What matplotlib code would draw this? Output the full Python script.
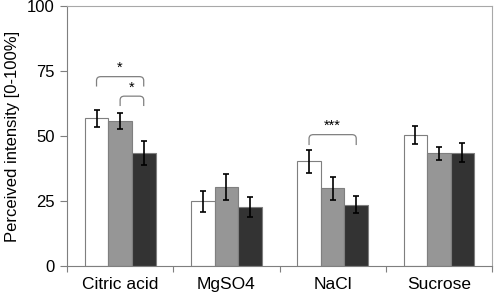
import matplotlib
matplotlib.use("Agg")
import matplotlib.pyplot as plt
import numpy as np
from matplotlib.path import Path
from matplotlib.patches import PathPatch

plt.rcParams['font.family'] = ['Liberation Sans', 'DejaVu Sans']

categories = ["Citric acid", "MgSO4", "NaCl", "Sucrose"]
series1 = [56.8, 24.8, 40.2, 50.4]
series2 = [55.8, 30.3, 29.9, 43.3]
series3 = [43.5, 22.8, 23.5, 43.6]
err1 = [3.2, 4.1, 4.4, 3.6]
err2 = [3.0, 5.1, 4.4, 2.6]
err3 = [4.6, 3.9, 3.3, 3.8]
colors = ["#ffffff", "#969696", "#333333"]
yticks = [0, 25, 50, 75, 100]

fig = plt.figure(figsize=(4.94, 2.95), dpi=100)
ax = fig.add_axes([0.1356, 0.0983, 0.8604, 0.8817])

x = np.arange(len(categories))
w = 0.222
offs = [-w, 0, w]
for s, e, c, o in zip([series1, series2, series3], [err1, err2, err3], colors, offs):
    ax.bar(x + o, s, width=w, color=c, edgecolor="#7f7f7f", linewidth=0.8,
           yerr=e, error_kw=dict(ecolor="black", elinewidth=1.2, capsize=2.2, capthick=1.2),
           zorder=2)

ax.set_xlim(-0.5, len(categories) - 0.5)
ax.set_ylim(0, 100)
ax.set_yticks(yticks)
ax.set_yticklabels([str(t) for t in yticks], fontsize=12)
ax.set_xticks(x)
ax.set_xticklabels(categories, fontsize=12.5)
ax.tick_params(axis='x', length=0, pad=8)
ax.tick_params(axis='y', length=5, color="#7f7f7f", width=0.8, pad=4)
ax.set_xticks(np.arange(len(categories) + 1) - 0.5, minor=True)
ax.tick_params(axis='x', which='minor', length=4, color="#7f7f7f", width=0.8, direction='out')
for sp in ax.spines.values():
    sp.set_color("#a8a8a8")
    sp.set_linewidth(0.8)
ax.spines['left'].set_color("#7f7f7f")
ax.spines['bottom'].set_color("#7f7f7f")
ax.set_ylabel("Perceived intensity [0-100%]", fontsize=12, labelpad=5)


def bracket(x1, x2, y, h, label):
    r = 0.04
    verts = [(x1, y - h), (x1, y - 1.5), (x1, y), (x1 + r, y),
             (x2 - r, y), (x2, y), (x2, y - 1.5), (x2, y - h)]
    codes = [Path.MOVETO, Path.LINETO, Path.CURVE3, Path.CURVE3,
             Path.LINETO, Path.CURVE3, Path.CURVE3, Path.LINETO]
    ax.add_patch(PathPatch(Path(verts, codes), fill=False, edgecolor="#808080", lw=0.9, zorder=3))
    ax.text((x1 + x2) / 2, y + 0.6, label, ha='center', va='bottom', fontsize=10.5)


bracket(x[0] + offs[0], x[0] + offs[2], 72.8, 3.8, "*")
bracket(x[0] + offs[1], x[0] + offs[2], 65.3, 3.8, "*")
bracket(x[2] + offs[0], x[2] + offs[2], 50.5, 4.0, "***")

fig.savefig("out.png", dpi=100)
